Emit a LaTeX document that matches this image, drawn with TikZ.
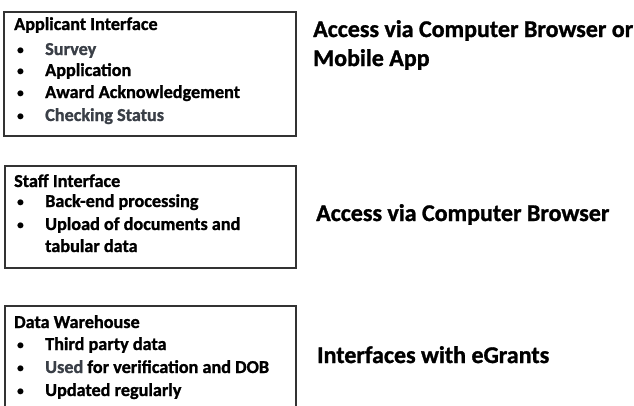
\documentclass[tikz,border=0pt]{standalone}
\usepackage{fontspec}
\setmainfont{Carlito}[BoldFeatures={FakeBold=1.2}]
\definecolor{scan}{HTML}{3A3F47}
\begin{document}
\begin{tikzpicture}[x=1pt,y=-1pt,
  panel/.style={draw=black!80, line width=1.8pt, inner sep=0pt},
  boxtext/.style={anchor=base west, inner sep=0pt, font=\fontsize{18.2}{21}\selectfont\bfseries},
  dot/.style={anchor=base west, inner sep=0pt, font=\fontsize{13}{21}\selectfont\bfseries},
  note/.style={anchor=base west, inner sep=0pt, align=left, font=\fontsize{24}{29}\selectfont\bfseries}
]
\useasboundingbox[fill=white] (0,0) rectangle (634,405);

% three framed panels (the last one runs off the bottom edge)
\draw[panel] (4,12) rectangle (296,136);
\draw[panel] (5,166) rectangle (296,268);
\draw[panel] (5,306) rectangle (296,420);

% applicant panel
\node[boxtext] (t1) at (14,30) {Applicant Interface};
\node[dot] (b11) at (17,54) {•};
\node[boxtext, text=scan] (i11) at (45,55) {Survey};
\node[dot] (b12) at (17,75) {•};
\node[boxtext] (i12) at (45,76) {Application};
\node[dot] (b13) at (17,97) {•};
\node[boxtext] (i13) at (45,98) {Award Acknowledgement};
\node[dot] (b14) at (17,120) {•};
\node[boxtext, text=scan] (i14) at (45,121) {Checking Status};

% staff panel
\node[boxtext] (t2) at (14,187) {Staff Interface};
\node[dot] (b21) at (17,206) {•};
\node[boxtext] (i21) at (45,207) {Back-end processing};
\node[dot] (b22) at (17,229) {•};
\node[boxtext] (i22) at (45,230) {Upload of documents and};
\node[boxtext] (i23) at (45,252) {tabular data};

% warehouse panel
\node[boxtext] (t3) at (14,328) {Data Warehouse};
\node[dot] (b31) at (17,349) {•};
\node[boxtext] (i31) at (45,350) {Third party data};
\node[dot] (b32) at (17,372) {•};
\node[boxtext] (i32) at (45,373) {\textcolor{scan}{Used} for verification and DOB};
\node[dot] (b33) at (17,395) {•};
\node[boxtext] (i33) at (45,396) {Updated regularly};

% access notes
\node[note] (n1) at (313,66) {Access via Computer Browser or\\Mobile App};
\node[note] (n2) at (316,221) {Access via Computer Browser};
\node[note] (n3) at (317,363) {Interfaces with eGrants};
\end{tikzpicture}
\end{document}
